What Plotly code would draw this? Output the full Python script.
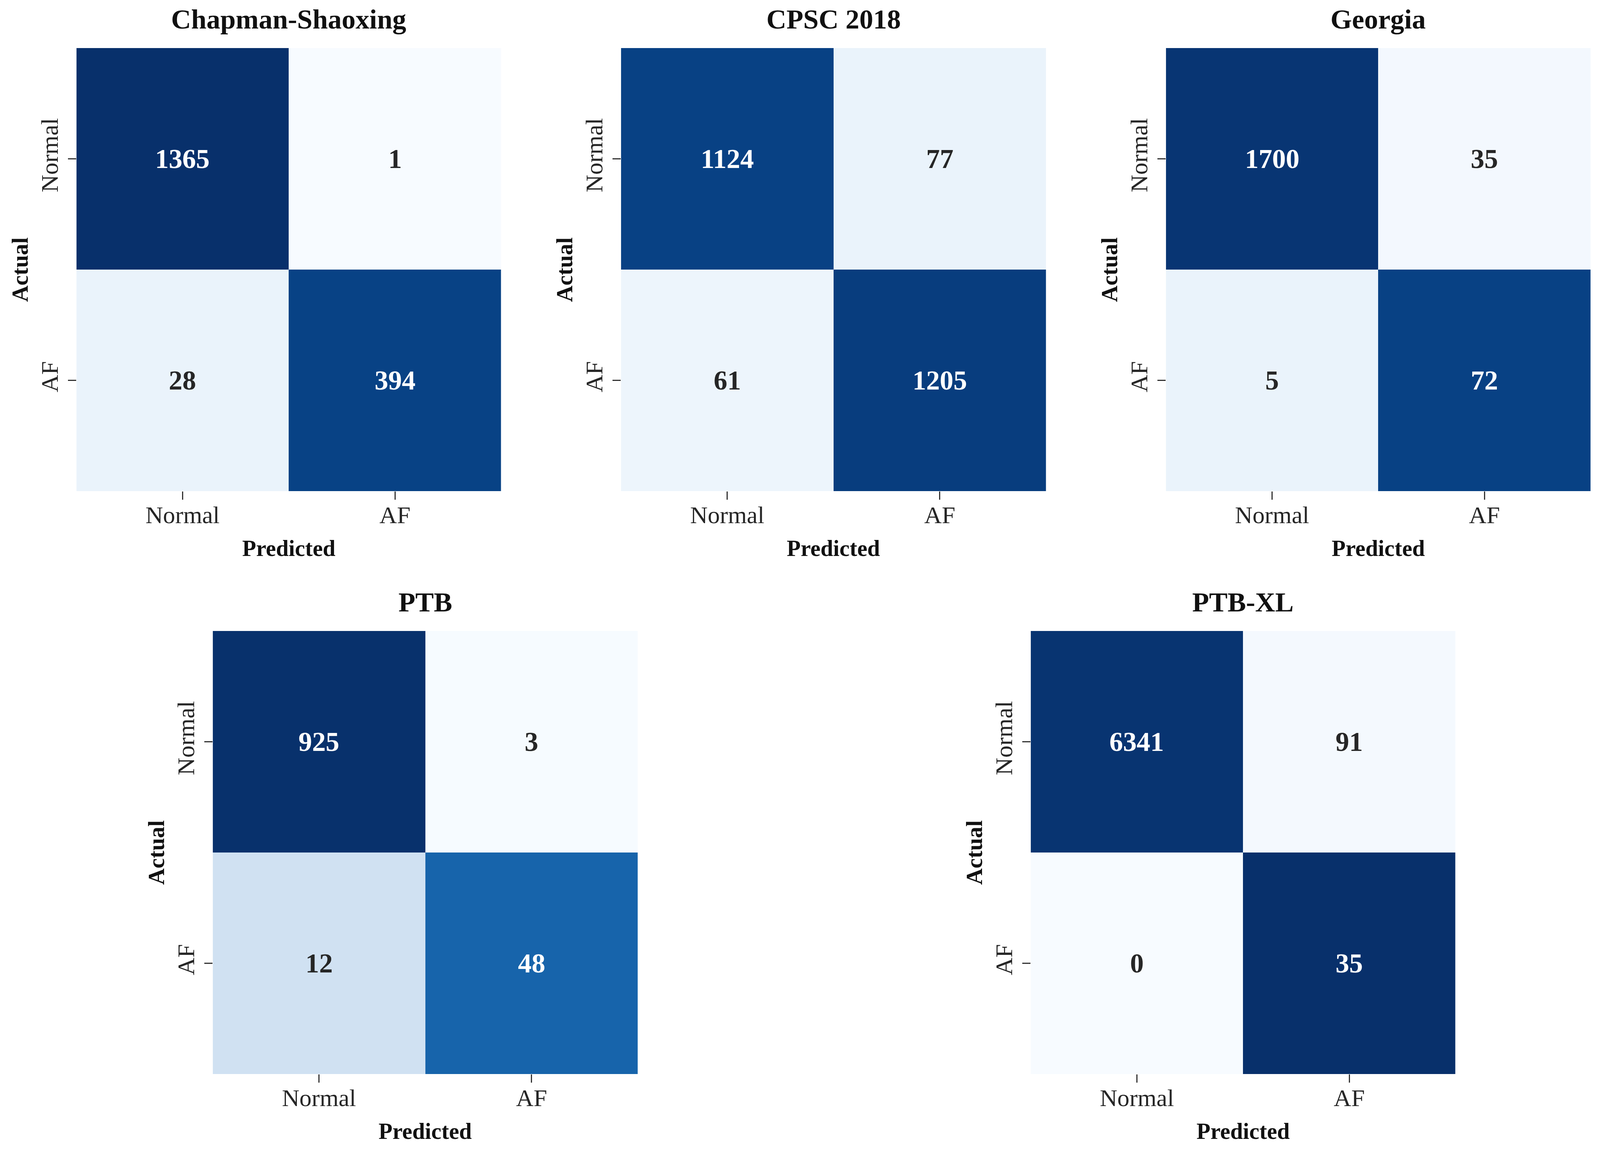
import plotly.graph_objects as go

# reference canvas (used only to express positions as paper fractions)
W, H = 4272, 2946
S = 1.045  # CSS px -> screenshot px magnification observed

class_labels = ["Normal", "AF"]
dataset_titles = ["Chapman-Shaoxing", "CPSC 2018", "Georgia", "PTB", "PTB-XL"]

cm_chapman = [[1365, 1], [28, 394]]
cm_cpsc = [[1124, 77], [61, 1205]]
cm_georgia = [[1700, 35], [5, 72]]
cm_ptb = [[925, 3], [12, 48]]
cm_ptbxl = [[6341, 91], [0, 35]]

matrices = [cm_chapman, cm_cpsc, cm_georgia, cm_ptb, cm_ptbxl]

# pixel boxes of each heatmap (left, right, top, bottom) in reference pixels
boxes = [
    (204, 1338, 123, 1257),
    (1658, 2793, 123, 1257),
    (3113, 4247, 123, 1257),
    (568, 1703, 1615, 2749),
    (2752, 3886, 1615, 2749),
]

blues = ["rgb(247,251,255)", "rgb(222,235,247)", "rgb(198,219,239)",
         "rgb(158,202,225)", "rgb(107,174,214)", "rgb(66,146,198)",
         "rgb(33,113,181)", "rgb(8,81,156)", "rgb(8,48,107)"]
colorscale = [[i / (len(blues) - 1), c] for i, c in enumerate(blues)]

FONT = "Liberation Serif, DejaVu Serif, serif"
TITLE_SIZE = 74 / S
CELL_SIZE = 73 / S
TICK_SIZE = 65 / S
LABEL_SIZE = 61 / S

fig = go.Figure()
annotations = []

for k, (cm, title, box) in enumerate(zip(matrices, dataset_titles, boxes)):
    n = "" if k == 0 else str(k + 1)
    xa, ya = "x" + n, "y" + n
    z = [[v / sum(row) if sum(row) else 0 for v in row] for row in cm]
    fig.add_trace(go.Heatmap(
        z=z, x=class_labels, y=class_labels, zmin=0, zmax=1,
        colorscale=colorscale, showscale=False, hoverinfo="skip",
        xaxis=xa, yaxis=ya))
    x0, x1, y0, y1 = box
    fig.update_layout(**{
        "xaxis" + n: dict(domain=[x0 / W, x1 / W], anchor=ya,
                          type="category", categoryorder="array", categoryarray=class_labels,
                          showgrid=False, zeroline=False, showline=False,
                          ticks="outside", ticklen=21, tickwidth=3, tickcolor="#333333",
                          tickfont=dict(family=FONT, size=TICK_SIZE, color="#262626"),
                          ticklabelstandoff=-15),
        "yaxis" + n: dict(domain=[1 - y1 / H, 1 - y0 / H], anchor=xa,
                          type="category", categoryorder="array", categoryarray=class_labels,
                          autorange="reversed",
                          showgrid=False, zeroline=False, showline=False,
                          ticks="outside", ticklen=21, tickwidth=3, tickcolor="#333333",
                          tickangle=-90,
                          tickfont=dict(family=FONT, size=TICK_SIZE, color="#262626"),
                          ticklabelstandoff=1),
    })
    for i in range(2):
        for j in range(2):
            annotations.append(dict(
                x=class_labels[j], y=class_labels[i], xref=xa, yref=ya,
                text=str(cm[i][j]), showarrow=False,
                font=dict(family=FONT, size=CELL_SIZE, weight="bold",
                          color="white" if z[i][j] > 0.5 else "#262626")))
    cx = (x0 + x1) / 2 / W
    cy = (y0 + y1) / 2
    annotations.append(dict(x=cx, y=1 - (y0 - 74) / H, xref="paper", yref="paper",
                            text=title, showarrow=False, xanchor="center", yanchor="middle",
                            font=dict(family=FONT, size=TITLE_SIZE, weight="bold", color="#111111")))
    annotations.append(dict(x=cx, y=1 - (y1 + 146) / H, xref="paper", yref="paper",
                            text="Predicted", showarrow=False, xanchor="center", yanchor="middle",
                            font=dict(family=FONT, size=LABEL_SIZE, weight="bold", color="#111111")))
    annotations.append(dict(x=(x0 - 151) / W, y=1 - cy / H, xref="paper", yref="paper",
                            text="Actual", showarrow=False, xanchor="center", yanchor="middle",
                            textangle=-90,
                            font=dict(family=FONT, size=LABEL_SIZE, weight="bold", color="#111111")))

fig.update_layout(
    autosize=True, margin=dict(l=0, r=0, t=0, b=0),
    paper_bgcolor="white", plot_bgcolor="white",
    annotations=annotations, showlegend=False,
)

post = (
    "document.documentElement.style.margin='0';"
    "document.body.style.margin='0';"
    "document.body.style.overflow='hidden';"
    "document.documentElement.style.overflow='hidden';"
    "var gd=document.getElementById('{plot_id}');"
    "gd.style.width='100vw';gd.style.height='100vh';"
    "return Plotly.relayout(gd,{width:window.innerWidth,height:window.innerHeight});"
)

fig.write_html("out.html", default_width="100vw", default_height="100vh",
               config={"responsive": True, "displayModeBar": False}, post_script=post)
